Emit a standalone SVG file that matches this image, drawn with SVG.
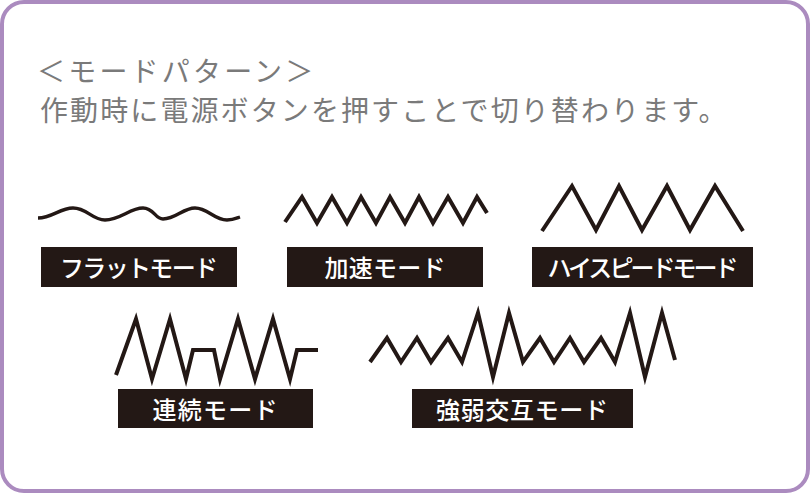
<svg xmlns="http://www.w3.org/2000/svg" width="812" height="494" viewBox="0 0 812 494">
<style>
.frame{fill:#fff;stroke:#ab8bbf;stroke-width:4}
.title{font-family:"Noto Sans CJK JP","Noto Sans",sans-serif;font-size:28px;fill:#7a7a7a;letter-spacing:2.1px}
.wave{fill:none;stroke:#231815;stroke-width:4;stroke-linejoin:miter;stroke-miterlimit:10}
.box{fill:#231815}
.lbl{font-family:"Noto Sans CJK JP","Noto Sans",sans-serif;font-size:24px;font-weight:500;fill:#fff;text-anchor:middle}
</style>
<rect class="frame" x="2" y="2" width="806" height="489" rx="22"/>
<g id="title">
<text class="title" x="37" y="82" style="letter-spacing:3.2px">＜モードパターン＞</text>
<text class="title" x="40" y="121">作動時に電源ボタンを押すことで切り替わります。</text>
</g>
<g id="flat">
<path class="wave" style="stroke-width:3.4" d="M38,218 C52,218 60,208 73,208 C87,208 92,220 105,220 C120,220 130,208 143,208 C154,208 155,219 163,219 C176,219 183,208 195,208 C208,208 214,220 227,220 C233,220 237,218 240,217"/>
<rect class="box" x="41" y="247" width="196" height="40"/>
<text class="lbl" x="139" y="277" textLength="158" lengthAdjust="spacing">フラットモード</text>
</g>
<g id="speedup">
<path class="wave" d="M285,222 L302,197 L317,223 L332,197 L347,223 L361,197 L376,223 L390,197 L405,223 L419,197 L433,223 L448,197 L463,223 L477,197 L487,213"/>
<rect class="box" x="287" y="247" width="196" height="40"/>
<text class="lbl" x="385" y="277" textLength="121" lengthAdjust="spacing">加速モード</text>
</g>
<g id="highspeed">
<path class="wave" d="M542,231 L572,186 L596,230 L619,186 L642,230 L667,186 L690,230 L715,186 L743,231"/>
<rect class="box" x="532" y="247" width="221" height="40"/>
<text class="lbl" x="643" y="277" textLength="191" lengthAdjust="spacing">ハイスピードモード</text>
</g>
<g id="continuous">
<path class="wave" d="M116,375 L136,319 L152,379 L170,319 L186,379 L193,350 L214,350 L220,379 L238,319 L255,379 L273,319 L290,379 L297,350 L318,350"/>
<rect class="box" x="118" y="389" width="195" height="39"/>
<text class="lbl" x="215" y="419" textLength="125" lengthAdjust="spacing">連続モード</text>
</g>
<g id="alternating">
<path class="wave" d="M370,362 L387,338 L401,362 L417,338 L431,362 L448,338 L462,362 L478,313 L493,377 L509,313 L523,362 L540,338 L554,362 L570,338 L584,362 L601,338 L615,362 L630,313 L645,377 L662,313 L675,360"/>
<rect class="box" x="412" y="389" width="221" height="39"/>
<text class="lbl" x="522" y="419" textLength="172" lengthAdjust="spacing">強弱交互モード</text>
</g>
<g id="connectors"/>
</svg>
